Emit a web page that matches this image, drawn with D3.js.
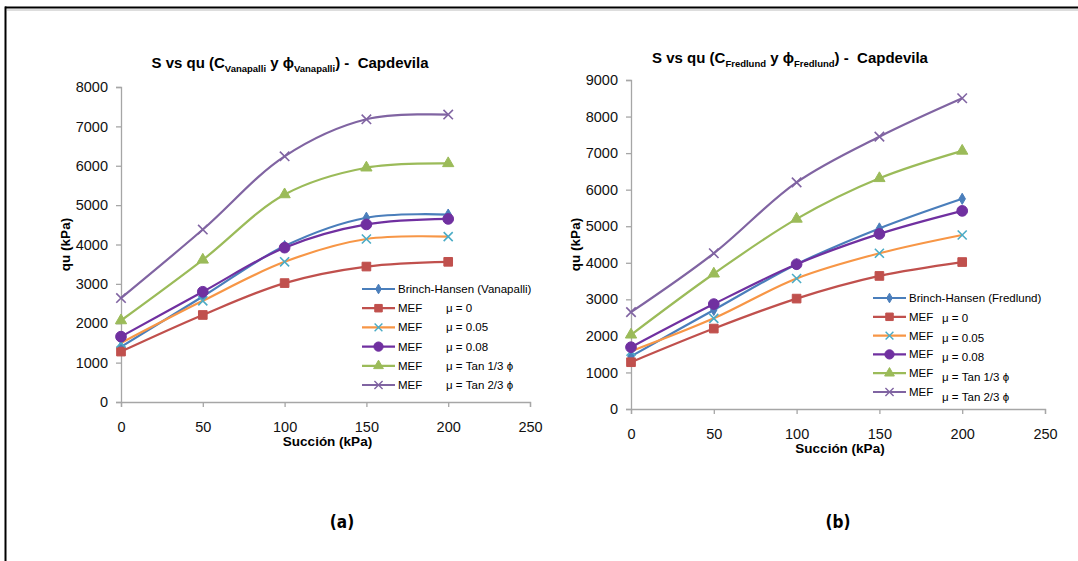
<!DOCTYPE html>
<html>
<head>
<meta charset="utf-8">
<script src="https://cdn.jsdelivr.net/npm/d3@7"></script>
<style>
  body { margin: 0; background: #fff; }
  svg { display: block; font-family: "Liberation Sans", Arial, sans-serif; }
</style>
</head>
<body>
<script>
// data (kPa)
var succion = [0, 50, 100, 150, 200];
var xTickLabels = [0, 50, 100, 150, 200, 250];
var yTickLabelsA = [0, 1000, 2000, 3000, 4000, 5000, 6000, 7000, 8000];
var yTickLabelsB = [0, 1000, 2000, 3000, 4000, 5000, 6000, 7000, 8000, 9000];

var legendMain = ["Brinch-Hansen", "MEF", "MEF", "MEF", "MEF", "MEF"];
var legendMu = ["", "\u03bc = 0", "\u03bc = 0.05", "\u03bc = 0.08", "\u03bc = Tan 1/3 \u03d5", "\u03bc = Tan 2/3 \u03d5"];

// (a) Vanapalli
var bhVanapalli = [1400, 2680, 3960, 4680, 4760];
var mef0A      = [1280, 2210, 3020, 3440, 3560];
var mef005A    = [1500, 2570, 3560, 4140, 4200];
var mef008A    = [1660, 2800, 3920, 4510, 4650];
var mefTan13A  = [2070, 3610, 5270, 5950, 6060];
var mefTan23A  = [2640, 4380, 6240, 7180, 7300];

// (b) Fredlund
var bhFredlund = [1440, 2710, 3960, 4940, 5750];
var mef0B      = [1280, 2200, 3020, 3640, 4020];
var mef005B    = [1580, 2480, 3570, 4260, 4760];
var mef008B    = [1690, 2870, 3960, 4790, 5420];
var mefTan13B  = [2030, 3700, 5200, 6310, 7060];
var mefTan23B  = [2650, 4260, 6200, 7450, 8500];

// styles for the six series
var styles = [
  {line: "#4a7ebb", mark: "#4a7ebb", sym: d3.symbolDiamond, size: 36, fill: true},
  {line: "#c0504d", mark: "#c0504d", sym: d3.symbolSquare, size: 75, fill: true},
  {line: "#f79646", mark: "#4bacc6", sym: d3.symbolTimes, size: 55, fill: false},
  {line: "#7030a0", mark: "#7030a0", sym: d3.symbolCircle, size: 90, fill: true},
  {line: "#9bbb59", mark: "#9bbb59", sym: d3.symbolTriangle, size: 55, fill: true},
  {line: "#8064a2", mark: "#8064a2", sym: d3.symbolTimes, size: 60, fill: false}
];

var W = 1078, H = 561;
var svg = d3.select("body").append("svg").attr("width", W).attr("height", H);

// frame
svg.append("line").attr("x1", 5).attr("x2", W).attr("y1", 7.5).attr("y2", 7.5)
   .attr("stroke", "#000").attr("stroke-width", 2);
svg.append("line").attr("x1", 7).attr("x2", W).attr("y1", 10).attr("y2", 10)
   .attr("stroke", "#bbb").attr("stroke-width", 1);
svg.append("line").attr("x1", 5.5).attr("x2", 5.5).attr("y1", 6.5).attr("y2", H)
   .attr("stroke", "#000").attr("stroke-width", 2);

function drawChart(c) {
  var x = d3.scaleLinear().domain([0, 250]).range(c.xr);
  var y = d3.scaleLinear().domain([0, c.ymax]).range(c.yr);
  var g = svg.append("g");

  // axes
  var xAxis = g.append("g")
     .attr("transform", "translate(0," + c.yr[0] + ")")
     .call(d3.axisBottom(x).tickValues(xTickLabels).tickFormat(d3.format("d")).tickSize(5).tickPadding(10));
  var yAxis = g.append("g")
     .attr("transform", "translate(" + c.xr[0] + ",0)")
     .call(d3.axisLeft(y).tickValues(c.yTicks).tickFormat(d3.format("d")).tickSize(5).tickPadding(8));
  [xAxis, yAxis].forEach(function(a) {
    a.select(".domain").attr("stroke", "#a6a6a6").attr("stroke-width", 1.3);
    a.selectAll(".tick line").attr("stroke", "#a6a6a6").attr("stroke-width", 1.3);
    a.selectAll(".tick text").attr("fill", "#111").style("font-size", "14.5px")
     .style("font-family", "'Liberation Sans', Arial, sans-serif");
  });
  xAxis.selectAll(".tick text").attr("dy", "1.05em");

  // axis titles
  g.append("text").attr("x", (c.xr[0] + c.xr[1]) / 2 + 2).attr("y", c.yr[0] + c.xlabDy)
   .attr("text-anchor", "middle").style("font-size", "13.5px").style("font-weight", "bold")
   .text("Succi\u00f3n (kPa)");
  g.append("text").attr("transform", "translate(" + c.ylabX + "," + (c.yr[0] + c.yr[1]) / 2 + ") rotate(-90)")
   .attr("text-anchor", "middle").style("font-size", "13.5px").style("font-weight", "bold")
   .text("qu (kPa)");

  // title with subscripts
  var t = g.append("text").attr("x", c.titleX).attr("y", c.titleY)
   .attr("text-anchor", "middle").style("font-size", "15px").style("font-weight", "bold")
   .style("white-space", "pre");
  t.append("tspan").text("S vs qu (C");
  t.append("tspan").attr("dy", 4).style("font-size", "9.5px").text(c.sub);
  t.append("tspan").attr("dy", -4).text(" y \u03d5");
  t.append("tspan").attr("dy", 4).style("font-size", "9.5px").text(c.sub);
  t.append("tspan").attr("dy", -4).text(") -\u00a0 Capdevila");

  var line = d3.line()
    .x(function(d, i) { return x(succion[i]); })
    .y(function(d) { return y(d); })
    .curve(d3.curveCatmullRom.alpha(0.5));

  c.series.forEach(function(s, k) {
    var st = styles[k];
    g.append("path").attr("d", line(s)).attr("fill", "none")
     .attr("stroke", st.line).attr("stroke-width", 2.2);
    g.selectAll(".m" + k).data(s).enter().append("path")
     .attr("transform", function(d, i) { return "translate(" + x(succion[i]) + "," + y(d) + ")"; })
     .attr("d", d3.symbol().type(st.sym).size(st.size))
     .attr("fill", st.fill ? st.mark : "none")
     .attr("stroke", st.mark).attr("stroke-width", st.fill ? 1 : 1.6);
  });

  // legend
  var lg = g.append("g").attr("transform", "translate(" + c.legX + "," + c.legY + ")");
  legendMain.forEach(function(name, k) {
    var st = styles[k];
    var row = lg.append("g").attr("transform", "translate(0," + k * c.legStep + ")");
    row.append("line").attr("x1", 0).attr("x2", 33).attr("stroke", st.line).attr("stroke-width", 2.2);
    row.append("path").attr("transform", "translate(16.5,0)")
       .attr("d", d3.symbol().type(st.sym).size(st.size * 0.75))
       .attr("fill", st.fill ? st.mark : "none")
       .attr("stroke", st.mark).attr("stroke-width", st.fill ? 1 : 1.4);
    row.append("text").attr("x", 36).attr("y", 4).style("font-size", "11.5px")
       .text(k === 0 ? name + " (" + c.sub + ")" : name);
    if (legendMu[k]) {
      row.append("text").attr("x", c.muX).attr("y", 4 + k * c.muShift).style("font-size", "11.5px")
         .text(legendMu[k]);
    }
  });
}

drawChart({
  xr: [121, 530], yr: [402, 87], ymax: 8000, yTicks: yTickLabelsA,
  series: [bhVanapalli, mef0A, mef005A, mef008A, mefTan13A, mefTan23A],
  sub: "Vanapalli", titleX: 290, titleY: 68, ylabX: 70, xlabDy: 44,
  legX: 362, legY: 289, legStep: 19.2, muX: 84, muShift: 0
});

drawChart({
  xr: [631, 1045], yr: [409, 80], ymax: 9000, yTicks: yTickLabelsB,
  series: [bhFredlund, mef0B, mef005B, mef008B, mefTan13B, mefTan23B],
  sub: "Fredlund", titleX: 790, titleY: 63, ylabX: 580, xlabDy: 44,
  legX: 873, legY: 298, legStep: 18.8, muX: 69, muShift: 1
});

// panel labels
svg.selectAll(".panel").data(["(a)", "(b)"]).enter().append("text")
   .attr("x", function(d, i) { return i === 0 ? 342 : 838; })
   .attr("y", 528)
   .attr("text-anchor", "middle")
   .style("font-family", "'DejaVu Sans Condensed', 'DejaVu Sans', sans-serif")
   .style("font-weight", "bold").style("font-size", "17px")
   .text(function(d) { return d; });
</script>
</body>
</html>
